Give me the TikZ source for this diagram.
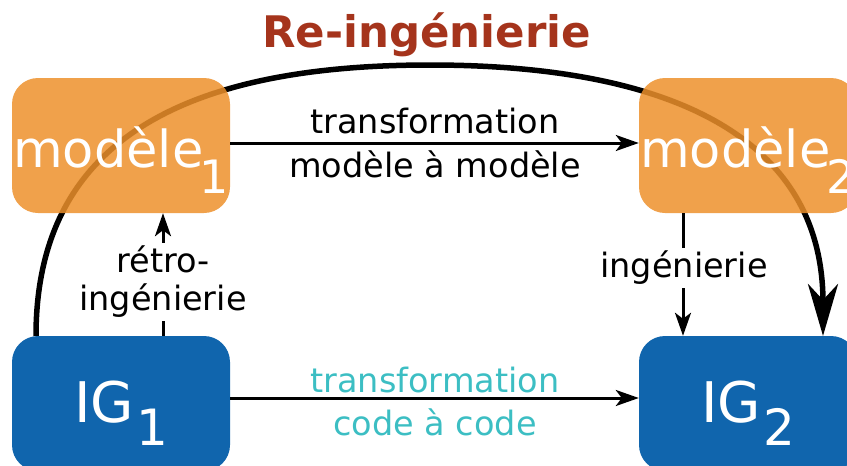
\documentclass[tikz,border=0pt]{standalone}
\usepackage{fontspec}
\setmainfont{DejaVu Sans}
\usetikzlibrary{arrows.meta,calc}
\definecolor{orangebox}{RGB}{237,144,43}
\definecolor{bluebox}{RGB}{16,101,173}
\definecolor{titlered}{RGB}{165,52,28}
\definecolor{tealtext}{RGB}{60,190,195}
\begin{document}
\begin{tikzpicture}[x=1pt,y=-1pt,
  mbox/.style={rectangle, rounded corners=26pt, minimum width=218pt, minimum height=135pt,
    inner sep=0pt, text=white, fill=orangebox, fill opacity=0.85, text opacity=1,
    text height=60pt, text depth=17pt, font=\fontsize{51}{60}\selectfont},
  gbox/.style={rectangle, rounded corners=26pt, minimum width=218pt, minimum height=135pt,
    inner sep=0pt, text=white, fill=bluebox,
    text height=60pt, text depth=23pt, font=\fontsize{56}{66}\selectfont},
  conn/.style={line width=3pt, -{Stealth[length=23pt,width=16pt,inset=6pt]}},
  bigarc/.style={line width=5.5pt, -{Stealth[length=52pt,width=30pt,inset=16pt]}},
  lab/.style={font=\fontsize{33.5}{38}\selectfont, inner sep=0pt},
  vlab/.style={font=\fontsize{33.5}{38}\selectfont, inner sep=3pt, fill=white, align=center},
  ttl/.style={font=\bfseries\fontsize{43.5}{50}\selectfont, text=titlered, inner sep=0pt}
]
\useasboundingbox (0,0) rectangle (847,466);
\clip (0,0) rectangle (847,466);

% reference positions for the boxes
\coordinate (c1) at (121,145.5);
\coordinate (c2) at (748,145.5);
\coordinate (c3) at (121,403.5);
\coordinate (c4) at (748,403.5);
\coordinate (top) at (430,65);

% big arc (behind the boxes)
\coordinate (arcS) at ($(c3)+(-85,-67.5)$);
\coordinate (arcE) at ($(c4)+(75,-67.5)$);
\draw[bigarc] (arcS) .. controls +(0,-196) and +(-245,0) .. (top)
                     .. controls +(245,0) and +(0,-196) .. (arcE);

% boxes
\node[mbox] (m1) at (c1) {modèle\kern-4pt\raisebox{-26pt}{\fontsize{46}{54}\selectfont 1}};
\node[mbox] (m2) at (c2) {modèle\kern-4pt\raisebox{-26pt}{\fontsize{46}{54}\selectfont 2}};
\node[gbox] (g1) at (c3) {IG\kern2pt\raisebox{-23pt}{\fontsize{50}{60}\selectfont 1}};
\node[gbox] (g2) at (c4) {IG\kern2pt\raisebox{-23pt}{\fontsize{50}{60}\selectfont 2}};

% horizontal connectors
\draw[conn] ($(m1.east)+(0,-2.5)$) -- ($(m2.west)+(0,-2.5)$);
\draw[conn] ($(g1.east)+(0,-5.5)$) -- ($(g2.west)+(0,-5.5)$);

% vertical connectors
\draw[conn] ($(g1.north)+(42,0)$) -- ($(m1.south)+(42,0)$);
\draw[conn] ($(m2.south)+(-65,0)$) -- ($(g2.north)+(-65,0)$);

% labels
\node[lab, anchor=base] (t1) at (435,133) {transformation};
\node[lab, anchor=base] (t2) at (435,177) {modèle à modèle};
\node[lab, anchor=base, text=tealtext] (t3) at (435,392) {transformation};
\node[lab, anchor=base, text=tealtext] (t4) at (435,435) {code à code};
\node[vlab] (rl) at (163,282) {rétro-\\ingénierie};
\node[vlab] (il) at (684,268) {ingénierie};

% title
\node[ttl, anchor=base] (title) at (426.5,47) {Re-ingénierie};
\end{tikzpicture}
\end{document}
